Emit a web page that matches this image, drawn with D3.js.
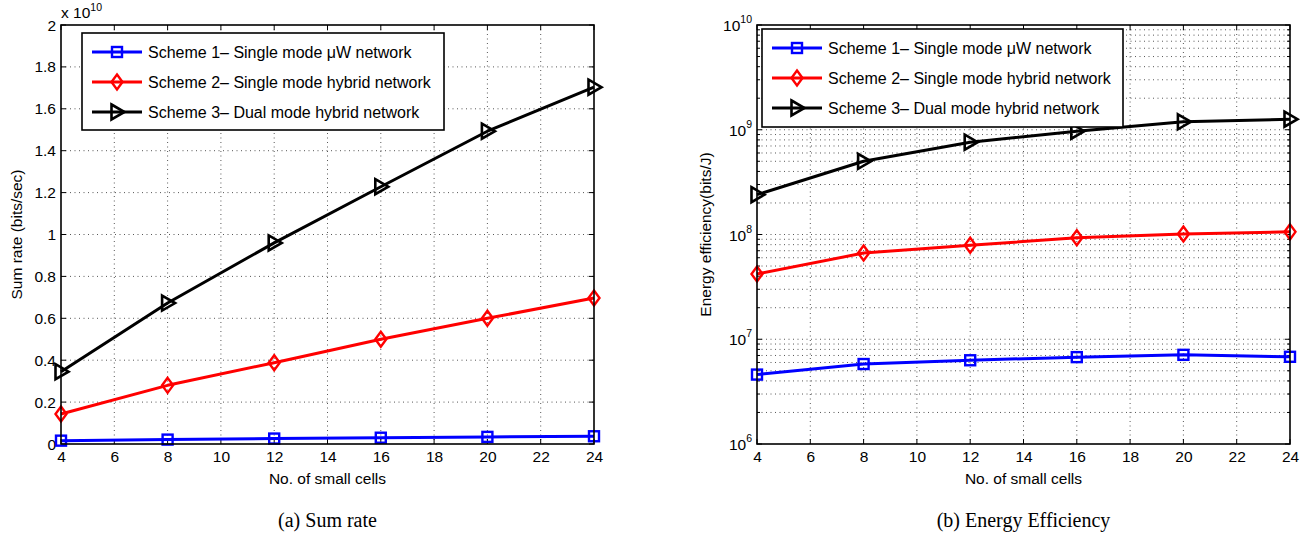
<!DOCTYPE html>
<html>
<head>
<meta charset="utf-8">
<script src="https://cdn.jsdelivr.net/npm/d3@7"></script>
<style>
  body { margin: 0; background: #fff; }
  svg { display: block; }
  text { font-family: "Liberation Sans", Arial, Helvetica, sans-serif; fill: #000; }
  .cap { font-family: "Liberation Serif", "Times New Roman", serif; }
</style>
</head>
<body>
<svg id="chart" width="1312" height="539"></svg>
<script>
// ---------------- data ----------------
const cells = [4, 8, 12, 16, 20, 24];
const xTicks = [4, 6, 8, 10, 12, 14, 16, 18, 20, 22, 24];

// Sum rate (bits/sec)
const sumRateScheme1 = [0.016e10, 0.021e10, 0.026e10, 0.030e10, 0.034e10, 0.037e10];
const sumRateScheme2 = [0.143e10, 0.280e10, 0.388e10, 0.500e10, 0.600e10, 0.697e10];
const sumRateScheme3 = [0.345e10, 0.673e10, 0.960e10, 1.228e10, 1.493e10, 1.703e10];
const sumRateTicks = [0, 0.2, 0.4, 0.6, 0.8, 1, 1.2, 1.4, 1.6, 1.8, 2];   // ×10^10

// Energy efficiency (bits/J)
const eeScheme1 = [4.6e6, 5.8e6, 6.3e6, 6.75e6, 7.1e6, 6.8e6];
const eeScheme2 = [4.2e7, 6.65e7, 7.9e7, 9.3e7, 1.01e8, 1.06e8];
const eeScheme3 = [2.4e8, 5.0e8, 7.6e8, 9.7e8, 1.19e9, 1.26e9];
const eeExponents = [6, 7, 8, 9, 10];

const seriesNames = [
  "Scheme 1\u2013 Single mode \u03bcW network",
  "Scheme 2\u2013 Single mode hybrid network",
  "Scheme 3\u2013 Dual mode hybrid network"
];
const seriesColors = ["#0000ff", "#ff0000", "#000000"];
const seriesMarkers = ["square", "diamond", "triangle"];

// ---------------- drawing ----------------
const svg = d3.select("#chart");
const FS = 15.5;

function drawMarker(g, type, x, y, color) {
  if (type === "square") {
    g.append("rect").attr("x", x - 5).attr("y", y - 5).attr("width", 10).attr("height", 10)
      .attr("fill", "none").attr("stroke", color).attr("stroke-width", 2.4);
  } else if (type === "diamond") {
    g.append("path").attr("d", `M${x},${y - 7.5}L${x + 5.5},${y}L${x},${y + 7.5}L${x - 5.5},${y}Z`)
      .attr("fill", "none").attr("stroke", color).attr("stroke-width", 2.4);
  } else {
    g.append("path").attr("d", `M${x - 5.5},${y - 7.5}L${x + 7.5},${y}L${x - 5.5},${y + 7.5}Z`)
      .attr("fill", "none").attr("stroke", color).attr("stroke-width", 2.6).attr("stroke-linejoin", "miter");
  }
}

function drawPanel(opt) {
  const { x0, x1, y0, y1, yScale, series, legend } = opt;
  const g = svg.append("g");
  const x = d3.scaleLinear().domain([4, 24]).range([x0, x1]);
  const y = yScale.range([y1, y0]);

  // grid
  const grid = g.append("g").attr("stroke", "#444").attr("stroke-width", 0.9).attr("stroke-dasharray", "1,3.5");
  xTicks.slice(1, -1).forEach(t => {
    grid.append("line").attr("x1", x(t)).attr("x2", x(t)).attr("y1", y0).attr("y2", y1);
  });
  opt.yGrid.forEach(v => {
    grid.append("line").attr("x1", x0).attr("x2", x1).attr("y1", y(v)).attr("y2", y(v));
  });

  // ticks inside (all 4 sides)
  const tk = g.append("g").attr("stroke", "#000").attr("stroke-width", 1);
  xTicks.forEach(t => {
    tk.append("line").attr("x1", x(t)).attr("x2", x(t)).attr("y1", y1).attr("y2", y1 - 5);
    tk.append("line").attr("x1", x(t)).attr("x2", x(t)).attr("y1", y0).attr("y2", y0 + 5);
  });
  opt.yMajor.forEach(v => {
    tk.append("line").attr("x1", x0).attr("x2", x0 + 5).attr("y1", y(v)).attr("y2", y(v));
    tk.append("line").attr("x1", x1).attr("x2", x1 - 5).attr("y1", y(v)).attr("y2", y(v));
  });
  (opt.yMinor || []).forEach(v => {
    tk.append("line").attr("x1", x0).attr("x2", x0 + 3).attr("y1", y(v)).attr("y2", y(v));
    tk.append("line").attr("x1", x1).attr("x2", x1 - 3).attr("y1", y(v)).attr("y2", y(v));
  });

  // x axis labels via d3 axis
  const xa = g.append("g").attr("transform", `translate(0,${y1})`)
    .call(d3.axisBottom(x).tickValues(xTicks).tickSize(0).tickPadding(7).tickFormat(d3.format("d")));
  xa.select(".domain").remove();
  xa.attr("font-size", FS).attr("font-family", null);
  xa.selectAll("text").attr("font-size", FS).attr("fill", "#000");

  // y labels
  opt.yLabels(g, y);

  // lines
  const line = d3.line().x((d, i) => x(cells[i])).y(d => y(d));
  series.forEach((s, k) => {
    g.append("path").datum(s).attr("d", line).attr("fill", "none")
      .attr("stroke", seriesColors[k]).attr("stroke-width", 3).attr("stroke-linejoin", "round");
    s.forEach((v, i) => drawMarker(g, seriesMarkers[k], x(cells[i]), y(v), seriesColors[k]));
  });

  // box
  g.append("rect").attr("x", x0).attr("y", y0).attr("width", x1 - x0).attr("height", y1 - y0)
    .attr("fill", "none").attr("stroke", "#000").attr("stroke-width", 1.6);

  // legend
  const lg = g.append("g");
  lg.append("rect").attr("x", legend.x).attr("y", legend.y).attr("width", legend.w).attr("height", legend.h)
    .attr("fill", "#fff").attr("stroke", "#000").attr("stroke-width", 1.6);
  seriesNames.forEach((name, k) => {
    const ly = legend.y + 19 + k * 30;
    lg.append("line").attr("x1", legend.x + 10).attr("x2", legend.x + 60).attr("y1", ly).attr("y2", ly)
      .attr("stroke", seriesColors[k]).attr("stroke-width", 3);
    drawMarker(lg, seriesMarkers[k], legend.x + 35, ly, seriesColors[k]);
    lg.append("text").attr("x", legend.x + 66).attr("y", ly + 5.5).attr("font-size", 16).text(name);
  });

  // x label
  g.append("text").attr("x", (x0 + x1) / 2).attr("y", y1 + 40).attr("text-anchor", "middle")
    .attr("font-size", FS).text("No. of small cells");
  // y label
  g.append("text").attr("transform", `translate(${opt.yLabelX},${(y0 + y1) / 2}) rotate(-90)`)
    .attr("text-anchor", "middle").attr("font-size", FS).text(opt.yTitle);
  // caption
  g.append("text").attr("class", "cap").attr("x", (x0 + x1) / 2).attr("y", 527)
    .attr("text-anchor", "middle").attr("font-size", 20).text(opt.caption);
}

// Panel (a)
drawPanel({
  x0: 61, x1: 594, y0: 25, y1: 444,
  yScale: d3.scaleLinear().domain([0, 2e10]),
  series: [sumRateScheme1, sumRateScheme2, sumRateScheme3],
  yGrid: sumRateTicks.slice(1, -1).map(v => v * 1e10),
  yMajor: sumRateTicks.map(v => v * 1e10),
  yLabels: (g, y) => {
    sumRateTicks.forEach(v => {
      g.append("text").attr("x", 56).attr("y", y(v * 1e10) + 5.5).attr("text-anchor", "end")
        .attr("font-size", FS).text(String(v));
    });
    const t = g.append("text").attr("x", 61).attr("y", 18).attr("font-size", FS);
    t.append("tspan").text("x 10");
    t.append("tspan").attr("font-size", 10.5).attr("dy", -7).text("10");
  },
  legend: { x: 82, y: 33, w: 362, h: 97 },
  yLabelX: 22,
  yTitle: "Sum rate (bits/sec)"
  , caption: "(a) Sum rate"
});

// Panel (b)
const minorVals = [];
eeExponents.slice(0, -1).forEach(e => { for (let m = 2; m <= 9; m++) minorVals.push(m * Math.pow(10, e)); });
drawPanel({
  x0: 757, x1: 1290, y0: 25, y1: 444,
  yScale: d3.scaleLog().domain([1e6, 1e10]),
  series: [eeScheme1, eeScheme2, eeScheme3],
  yGrid: eeExponents.slice(1, -1).map(e => Math.pow(10, e)).concat(minorVals),
  yMajor: eeExponents.map(e => Math.pow(10, e)),
  yMinor: minorVals,
  yLabels: (g, y) => {
    eeExponents.forEach(e => {
      const t = g.append("text").attr("x", 752).attr("y", y(Math.pow(10, e)) + 6).attr("text-anchor", "end")
        .attr("font-size", FS);
      t.append("tspan").text("10");
      t.append("tspan").attr("font-size", 10.5).attr("dy", -8).text(String(e));
    });
  },
  legend: { x: 762, y: 29, w: 361, h: 98 },
  yLabelX: 711,
  yTitle: "Energy efficiency(bits/J)",
  caption: "(b) Energy Efficiency"
});
</script>
</body>
</html>
